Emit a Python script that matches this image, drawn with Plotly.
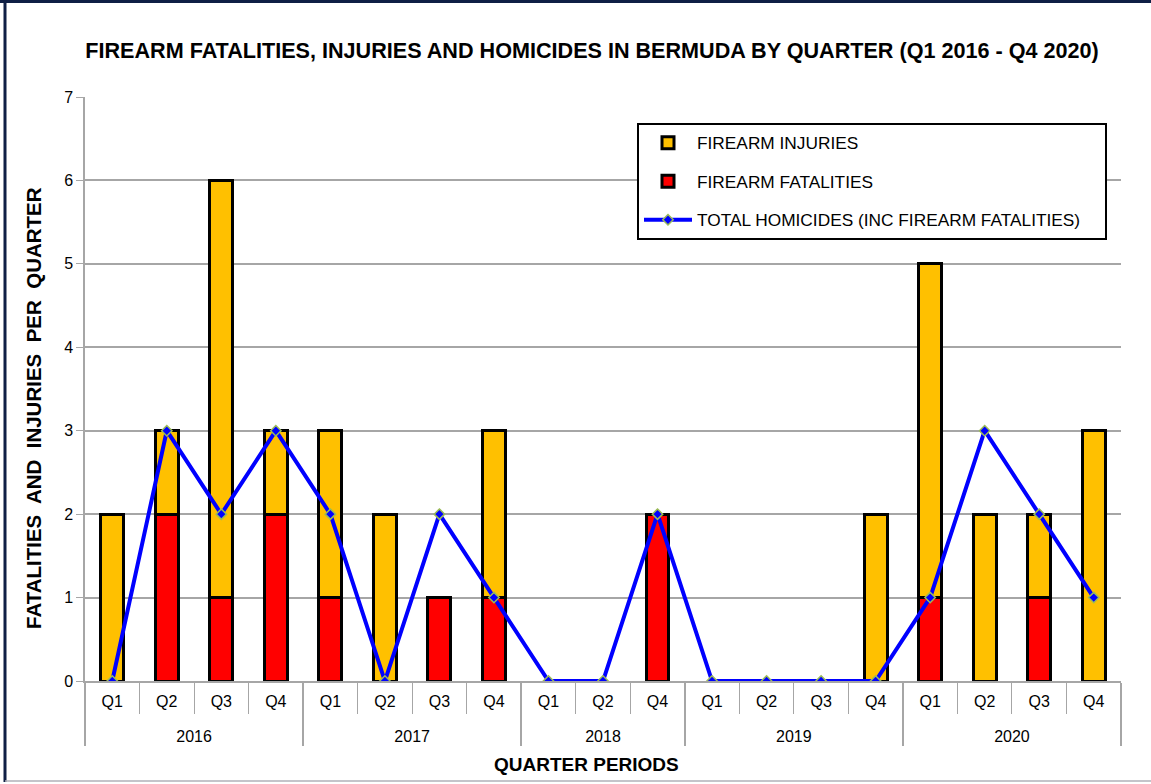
import plotly.graph_objects as go

years = ["2016"]*4 + ["2017"]*4 + ["2018"]*3 + ["2019"]*4 + ["2020"]*4
quarters = ["Q1","Q2","Q3","Q4", "Q1","Q2","Q3","Q4", "Q1","Q2","Q4",
            "Q1","Q2","Q3","Q4", "Q1","Q2","Q3","Q4"]
fatalities = [0,2,1,2, 1,0,1,1, 0,0,2, 0,0,0,0, 1,0,1,0]
injuries   = [2,1,5,1, 2,2,0,2, 0,0,0, 0,0,0,2, 4,2,1,3]
homicides  = [0,3,2,3, 2,0,2,1, 0,0,2, 0,0,0,0, 1,3,2,1]

# year labels get a leading blank line so they sit lower, as in the reference
x = [["<br>" + y for y in years], quarters]

# plot area in pixels: left 85, right 1121, top 97, bottom 681
L, R, T, B, W, H = 85, 1121, 97, 681, 1151, 784
PW, PH = R - L, B - T
def px(v): return (v - L) / PW
def py(v): return (B - v) / PH

# no outline on empty quarters (nothing stacked there)
edge = [3 if (f + i) > 0 else 0 for f, i in zip(fatalities, injuries)]

fig = go.Figure()
fig.add_trace(go.Bar(x=x, y=fatalities, name="FIREARM FATALITIES", legendrank=2, legendgroup="b",
                     marker=dict(color="#FF0000", line=dict(color="black", width=edge))))
fig.add_trace(go.Bar(x=x, y=injuries, name="FIREARM INJURIES", legendrank=1, legendgroup="a",
                     marker=dict(color="#FFC000", line=dict(color="black", width=edge))))
fig.add_trace(go.Scatter(x=x, y=homicides,
                         name="TOTAL HOMICIDES (INC FIREARM FATALITIES)\u00a0\u00a0\u00a0\u00a0",
                         legendrank=3, legendgroup="c", mode="lines+markers",
                         line=dict(color="#0000FF", width=4),
                         marker=dict(symbol="diamond", size=8, color="#0000FF",
                                     line=dict(color="#9BBB59", width=1.5))))

fig.update_layout(
    width=W, height=H,
    barmode="stack", bargap=0.58,
    paper_bgcolor="white", plot_bgcolor="white",
    margin=dict(l=L, r=W - R, t=T, b=H - B, autoexpand=False),
    font=dict(family="Liberation Sans, Arial, sans-serif", color="black"),
    title=dict(text="<b>FIREARM FATALITIES, INJURIES AND HOMICIDES IN BERMUDA BY QUARTER (Q1 2016 - Q4 2020)</b>",
               x=592 / W, xanchor="center", y=1 - 50 / H, yanchor="middle",
               font=dict(family="Liberation Sans, Arial, sans-serif", size=21.6, color="black")),
    legend=dict(x=px(637), y=py(123), xanchor="left", yanchor="top",
                bgcolor="white", bordercolor="black", borderwidth=2,
                font=dict(size=17.3, family="Liberation Sans, Arial, sans-serif"),
                itemwidth=48, tracegroupgap=13, traceorder="grouped"),
    showlegend=True,
)
fig.update_yaxes(range=[0, 7], dtick=1, showgrid=True, gridcolor="#A6A6A6", gridwidth=1.5,
                 showline=True, linecolor="#A6A6A6", linewidth=1.5,
                 ticks="outside", ticklen=7, tickcolor="#A6A6A6",
                 tickfont=dict(size=16), zeroline=False, automargin=False)
fig.update_xaxes(range=[-0.5, len(quarters) - 0.5], automargin=False,
                 showline=True, linecolor="#A6A6A6", linewidth=1.5,
                 ticks="outside", ticklen=31, tickcolor="#A6A6A6", tickson="boundaries",
                 showdividers=True, dividercolor="#A6A6A6", dividerwidth=1.5,
                 tickfont=dict(size=16), ticklabelstandoff=5)

fig.add_annotation(text="<b>QUARTER PERIODS</b>", xref="paper", yref="paper",
                   x=px(586), y=py(764), xanchor="center", yanchor="middle",
                   showarrow=False, font=dict(size=19))
fig.add_annotation(text="<b>FATALITIES  AND  INJURIES  PER  QUARTER</b>", xref="paper", yref="paper",
                   x=px(33), y=py(408), xanchor="center", yanchor="middle", textangle=-90,
                   showarrow=False, font=dict(size=20.5))

# outer frame
fig.add_shape(type="line", xref="paper", yref="paper", x0=px(0), x1=px(W), y0=py(1.5), y1=py(1.5),
              line=dict(color="#0F1F45", width=3))
fig.add_shape(type="line", xref="paper", yref="paper", x0=px(5), x1=px(5), y0=py(0), y1=py(782),
              line=dict(color="#0F1F45", width=3))
fig.add_shape(type="line", xref="paper", yref="paper", x0=px(5), x1=px(W), y0=py(781), y1=py(781),
              line=dict(color="#B0B0B8", width=1.5))

fig.write_html("out.html", config={"displayModeBar": False},
               post_script="document.body.style.margin='0';")
